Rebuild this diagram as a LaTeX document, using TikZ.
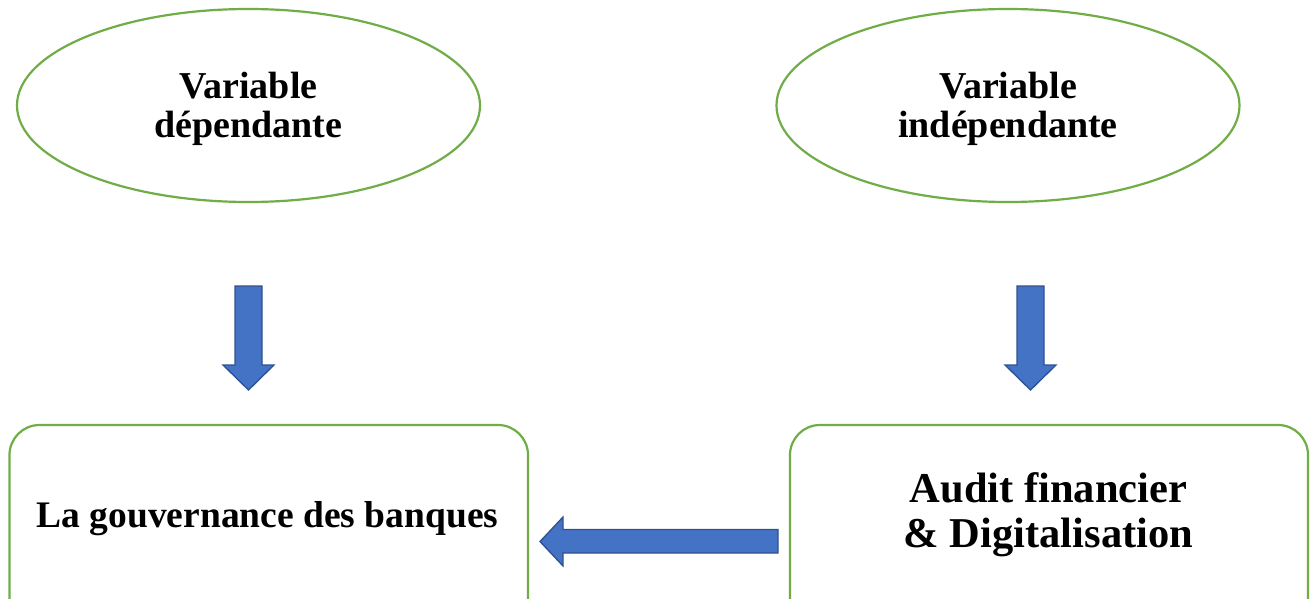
\documentclass[tikz,border=0pt]{standalone}
\usepackage{fontspec}
\setmainfont{Liberation Serif}
\usetikzlibrary{shapes.geometric}
\definecolor{vgreen}{HTML}{70AD47}
\definecolor{ablue}{HTML}{4472C4}
\definecolor{ablueline}{HTML}{2F528F}
\begin{document}
\begin{tikzpicture}[x=1pt,y=-1pt,
  ovalbox/.style={ellipse,draw=vgreen,line width=2.2pt,fill=white,minimum width=463pt,minimum height=193pt,inner sep=0pt},
  roundbox/.style={draw=vgreen,line width=2.2pt,rounded corners=30pt},
  blockarrow/.style={fill=ablue,draw=ablueline,line width=1.3pt,line join=miter},
  lbl/.style={align=center,font=\bfseries\fontsize{38}{39}\selectfont,inner sep=0pt}]
\clip (0,0) rectangle (1314,599);
\fill[white] (0,0) rectangle (1314,599);
% ellipses
\node[ovalbox] (dep) at (248.5,105.5) {};
\node[lbl] (deptxt) at (248.5,108.5) {Variable\\dépendante};
\node[ovalbox] (indep) at (1008,105.5) {};
\node[lbl] (indeptxt) at (1008,108.5) {Variable\\indépendante};
% boxes
\draw[roundbox] (9.5,425) rectangle (528,640);
\node[lbl,font=\bfseries\fontsize{37.5}{40}\selectfont,anchor=base] (govtxt) at (267.5,527) {La gouvernance des banques};
\draw[roundbox] (790,425) rectangle (1308,640);
\node[lbl,font=\bfseries\fontsize{42.5}{45}\selectfont] (audit) at (1048.5,515) {Audit financier\\\& Digitalisation};
% block arrows
\draw[blockarrow] (235,286) -- (262,286) -- (262,365) -- (274,365) -- (248.5,390) -- (223,365) -- (235,365) -- cycle;
\draw[blockarrow] (1017,286) -- (1044,286) -- (1044,365) -- (1056,365) -- (1030.5,390) -- (1005,365) -- (1017,365) -- cycle;
\draw[blockarrow] (778,529.5) -- (563,529.5) -- (563,517) -- (540,541.5) -- (563,566) -- (563,553) -- (778,553) -- cycle;
\end{tikzpicture}
\end{document}
